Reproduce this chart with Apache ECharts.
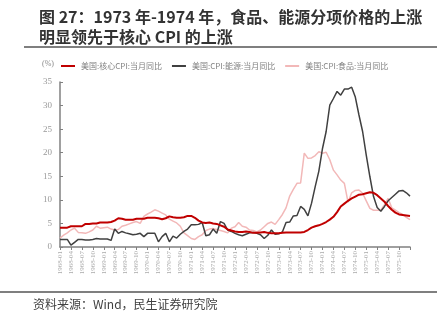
<!DOCTYPE html>
<html><head><meta charset="utf-8">
<script src="https://cdn.jsdelivr.net/npm/echarts@6/dist/echarts.min.js"></script>
<style>html,body{margin:0;padding:0;background:#fff}#c{width:437px;height:323px}</style>
</head><body><div id="c"></div>
<script>
// months 1968-01 .. 1976-01
var months = [];
for (var y = 1968; y <= 1976; y++) { for (var m = 1; m <= 12; m++) { if (y === 1976 && m > 1) break; months.push(y + '-' + (m < 10 ? '0' + m : '' + m)); } }

var coreCPI = [
 4.1,4.1,4.1,4.4,4.4,4.4,4.4,4.9,4.9,5.0,5.0,5.2,
 5.2,5.2,5.3,5.6,6.1,6.0,5.8,5.8,5.8,6.0,6.0,6.0,
 6.2,6.2,6.2,6.1,5.9,6.1,6.5,6.3,6.2,6.2,6.3,6.6,
 6.6,6.2,5.6,5.2,5.1,5.2,5.0,4.9,4.6,4.3,3.7,3.5,
 3.3,3.2,3.2,3.3,3.2,3.0,3.0,3.1,3.2,3.0,2.9,2.9,
 2.9,3.0,3.1,3.1,3.1,3.1,3.1,3.2,3.6,4.1,4.4,4.6,
 4.9,5.3,5.8,6.4,7.4,8.6,9.2,9.8,10.3,10.7,11.1,11.2,
 11.4,11.6,11.5,11.0,10.3,9.6,8.7,7.9,7.3,6.9,6.8,6.7,
 6.6
];
var energyCPI = [
 1.6,1.6,1.6,0.4,1.0,1.6,1.6,1.5,1.5,1.6,1.8,1.7,
 1.7,1.7,1.4,3.8,2.9,3.3,3.0,2.8,2.6,2.7,2.9,2.2,
 2.9,2.9,2.9,1.1,2.2,2.9,1.1,2.3,1.9,2.7,3.3,3.8,
 4.7,4.7,4.8,5.2,2.4,2.6,3.8,2.9,5.4,5.0,3.6,3.3,
 2.9,2.6,2.4,2.7,3.0,3.1,2.9,2.6,1.8,2.5,3.6,2.7,
 2.8,3.2,5.2,5.3,6.6,6.7,8.6,8.0,6.6,9.3,12.8,16.1,
 20.9,24.5,30.1,31.5,33.0,32.2,33.5,33.5,33.9,31.8,28.0,24.5,
 19.5,14.9,10.7,8.4,7.6,8.6,9.8,10.5,11.2,11.9,12.0,11.5,
 10.8
];
var foodCPI = [
 1.9,2.5,3.0,3.6,4.0,3.1,3.0,2.9,3.2,3.6,4.4,4.0,
 4.1,4.2,3.8,3.6,3.7,4.4,4.6,4.9,5.2,5.4,5.0,6.5,
 7.0,7.4,7.9,7.6,7.2,6.8,5.9,5.5,5.1,4.4,3.0,2.4,
 1.8,1.6,2.2,2.6,3.5,3.8,3.9,3.7,3.5,3.3,3.0,4.0,
 4.3,5.2,4.4,4.2,3.6,3.5,3.2,3.6,4.3,5.0,5.3,4.8,
 5.8,6.9,8.3,10.8,12.2,13.5,13.6,19.9,18.8,18.9,19.4,20.2,
 19.9,20.1,18.5,16.3,15.3,14.2,13.5,9.5,11.5,12.0,12.1,11.4,
 9.8,8.2,7.8,7.8,7.8,9.0,10.3,8.3,7.8,7.3,6.9,6.3,
 5.8
];
var seriesNames = ['美国:核心CPI:当月同比', '美国:CPI:能源:当月同比', '美国:CPI:食品:当月同比'];
var yTicks = [0, 5, 10, 15, 20, 25, 30, 35];

var chart = echarts.init(document.getElementById('c'), null, {renderer: 'canvas'});
var serif = 'Liberation Serif';
chart.setOption({
  animation: false,
  title: {
    text: '图 27：1973 年-1974 年，食品、能源分项价格的上涨\n明显领先于核心 CPI 的上涨',
    left: 34, top: 2,
    textStyle: {fontFamily: 'Noto Sans CJK SC', fontWeight: 'bold', fontSize: 16, lineHeight: 20, color: '#333333'}
  },
  graphic: [
    {type: 'line', shape: {x1: 24, y1: 47, x2: 437, y2: 47}, style: {stroke: '#7f7f7f', lineWidth: 2}},
    {type: 'line', shape: {x1: 0, y1: 292, x2: 437, y2: 292}, style: {stroke: '#7f7f7f', lineWidth: 2}},
    {type: 'text', left: 33, top: 298, style: {text: '资料来源：Wind，民生证券研究院', font: '12px "Noto Sans CJK SC"', fill: '#404040'}}
  ],
  legend: {
    left: 56, top: 57, itemWidth: 14, itemHeight: 2, itemGap: 10, icon: 'rect',
    data: seriesNames,
    textStyle: {fontFamily: 'Noto Sans CJK SC', fontSize: 8, color: '#808080', padding: [0, 0, 0, 1]}
  },
  grid: {left: 60, right: 27, top: 82, bottom: 76},
  xAxis: {
    type: 'category', data: months, boundaryGap: false,
    axisLine: {lineStyle: {color: '#808080', width: 1.5}},
    axisTick: {interval: 2, length: 3, lineStyle: {color: '#808080'}},
    axisLabel: {interval: 2, rotate: 90, fontFamily: serif, fontSize: 7, color: '#aaa', margin: 4,
      formatter: function (v, i) { return i === months.length - 1 ? '' : v; }},
    splitLine: {show: false}
  },
  yAxis: {
    type: 'value', min: yTicks[0], max: yTicks[yTicks.length - 1], interval: 5,
    name: '(%)', nameGap: 14, nameTextStyle: {fontFamily: serif, fontSize: 8, color: '#888', align: 'right', padding: [0, 6, 0, 0]},
    axisLine: {show: true, lineStyle: {color: '#808080', width: 1.5}},
    axisTick: {show: true, inside: true, length: 3, lineStyle: {color: '#808080'}},
    axisLabel: {fontFamily: serif, fontSize: 9, color: '#999', margin: 8},
    splitLine: {show: false}
  },
  series: [
    {name: seriesNames[0], type: 'line', data: coreCPI, symbol: 'none', z: 5, lineStyle: {color: '#c00000', width: 2}, itemStyle: {color: '#c00000'}},
    {name: seriesNames[1], type: 'line', data: energyCPI, symbol: 'none', z: 4, lineStyle: {color: '#404040', width: 1.5}, itemStyle: {color: '#404040'}},
    {name: seriesNames[2], type: 'line', data: foodCPI, symbol: 'none', z: 3, lineStyle: {color: '#f2b8b8', width: 1.5}, itemStyle: {color: '#f2b8b8'}}
  ]
});
</script></body></html>
